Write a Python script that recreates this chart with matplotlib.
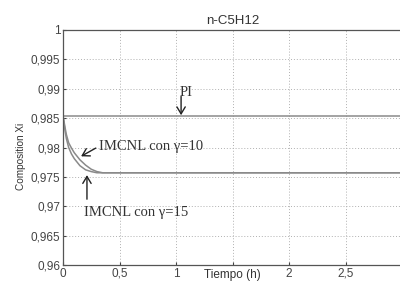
import matplotlib
matplotlib.use('Agg')
import matplotlib.pyplot as plt

# data
t = [0, 0.02, 0.03, 0.05, 0.075, 0.1, 0.15, 0.2, 0.25, 0.3, 0.35, 0.45, 0.6, 1.0, 2.0, 3.0]
x_g10 = [0.9854, 0.9832, 0.9822, 0.9808, 0.9799, 0.9791, 0.9779, 0.9770, 0.9763, 0.9759, 0.9757,
         0.9757, 0.9757, 0.9757, 0.9757, 0.9757]
x_g15 = [0.9854, 0.9826, 0.9815, 0.9800, 0.9789, 0.9781, 0.9769, 0.9762, 0.9759, 0.9757, 0.9757,
         0.9757, 0.9757, 0.9757, 0.9757, 0.9757]
t_pi = [0, 3.0]
x_pi = [0.9854, 0.9854]

xticks = [0, 0.5, 1, 1.5, 2, 2.5, 3]
xticklabels = ['0', '0,5', '1', '', '2', '2,5', '']
yticks = [0.96, 0.965, 0.97, 0.975, 0.98, 0.985, 0.99, 0.995, 1.0]
yticklabels = ['0,96', '0,965', '0,97', '0,975', '0,98', '0,985', '0,99', '0,995', '1']

plt.rcParams['font.family'] = ['Liberation Sans', 'DejaVu Sans']
fig = plt.figure(figsize=(4.0, 2.85), dpi=100)
ax = fig.add_axes([63/400, 20/285, 339/400, 235/285])

lc = '#8a8a8a'
ax.plot(t_pi, x_pi, color=lc, lw=1.1)
ax.plot(t, x_g10, color=lc, lw=1.1)
ax.plot(t, x_g15, color=lc, lw=1.1)

ax.set_xlim(0, 3)
ax.set_ylim(0.96, 1.0)
ax.set_xticks(xticks)
ax.set_xticklabels(xticklabels)
ax.set_yticks(yticks)
ax.set_yticklabels(yticklabels)
ax.tick_params(direction='in', length=2.5, labelsize=8.5, colors='#444444', pad=2)
ax.grid(True, color='#b0b0b0', linestyle=(0, (1, 2)), lw=0.7)
for s in ax.spines.values():
    s.set_color('#555555')
    s.set_linewidth(0.9)

ax.set_title('n-C5H12', fontsize=9.5, color='#333333', pad=4)
ax.set_xlabel('Tiempo (h)', fontsize=8.5, color='#333333')
ax.xaxis.set_label_coords(0.5, -0.015)
ax.set_ylabel('Composition Xi', fontsize=7.2, color='#333333')
ax.yaxis.set_label_coords(-0.108, 0.464)

serif = dict(family=['Liberation Serif', 'DejaVu Serif'], fontsize=10.5, color='#333333')
arr = dict(arrowstyle='->,head_length=0.5,head_width=0.3', color='#222222', lw=1.0,
           shrinkA=0, shrinkB=0)

ax.text(1.03, 0.9894, 'PI', ha='left', va='center', **serif)
ax.annotate('', xy=(1.045, 0.9855), xytext=(1.045, 0.9887), arrowprops=arr)

ax.text(0.32, 0.9801, 'IMCNL con γ=10', ha='left', va='center', **serif)
ax.annotate('', xy=(0.16, 0.9785), xytext=(0.29, 0.9799), arrowprops=arr)

ax.text(0.19, 0.9689, 'IMCNL con γ=15', ha='left', va='center', **serif)
ax.annotate('', xy=(0.212, 0.9753), xytext=(0.212, 0.9712), arrowprops=arr)

fig.savefig('out.png', dpi=100)
